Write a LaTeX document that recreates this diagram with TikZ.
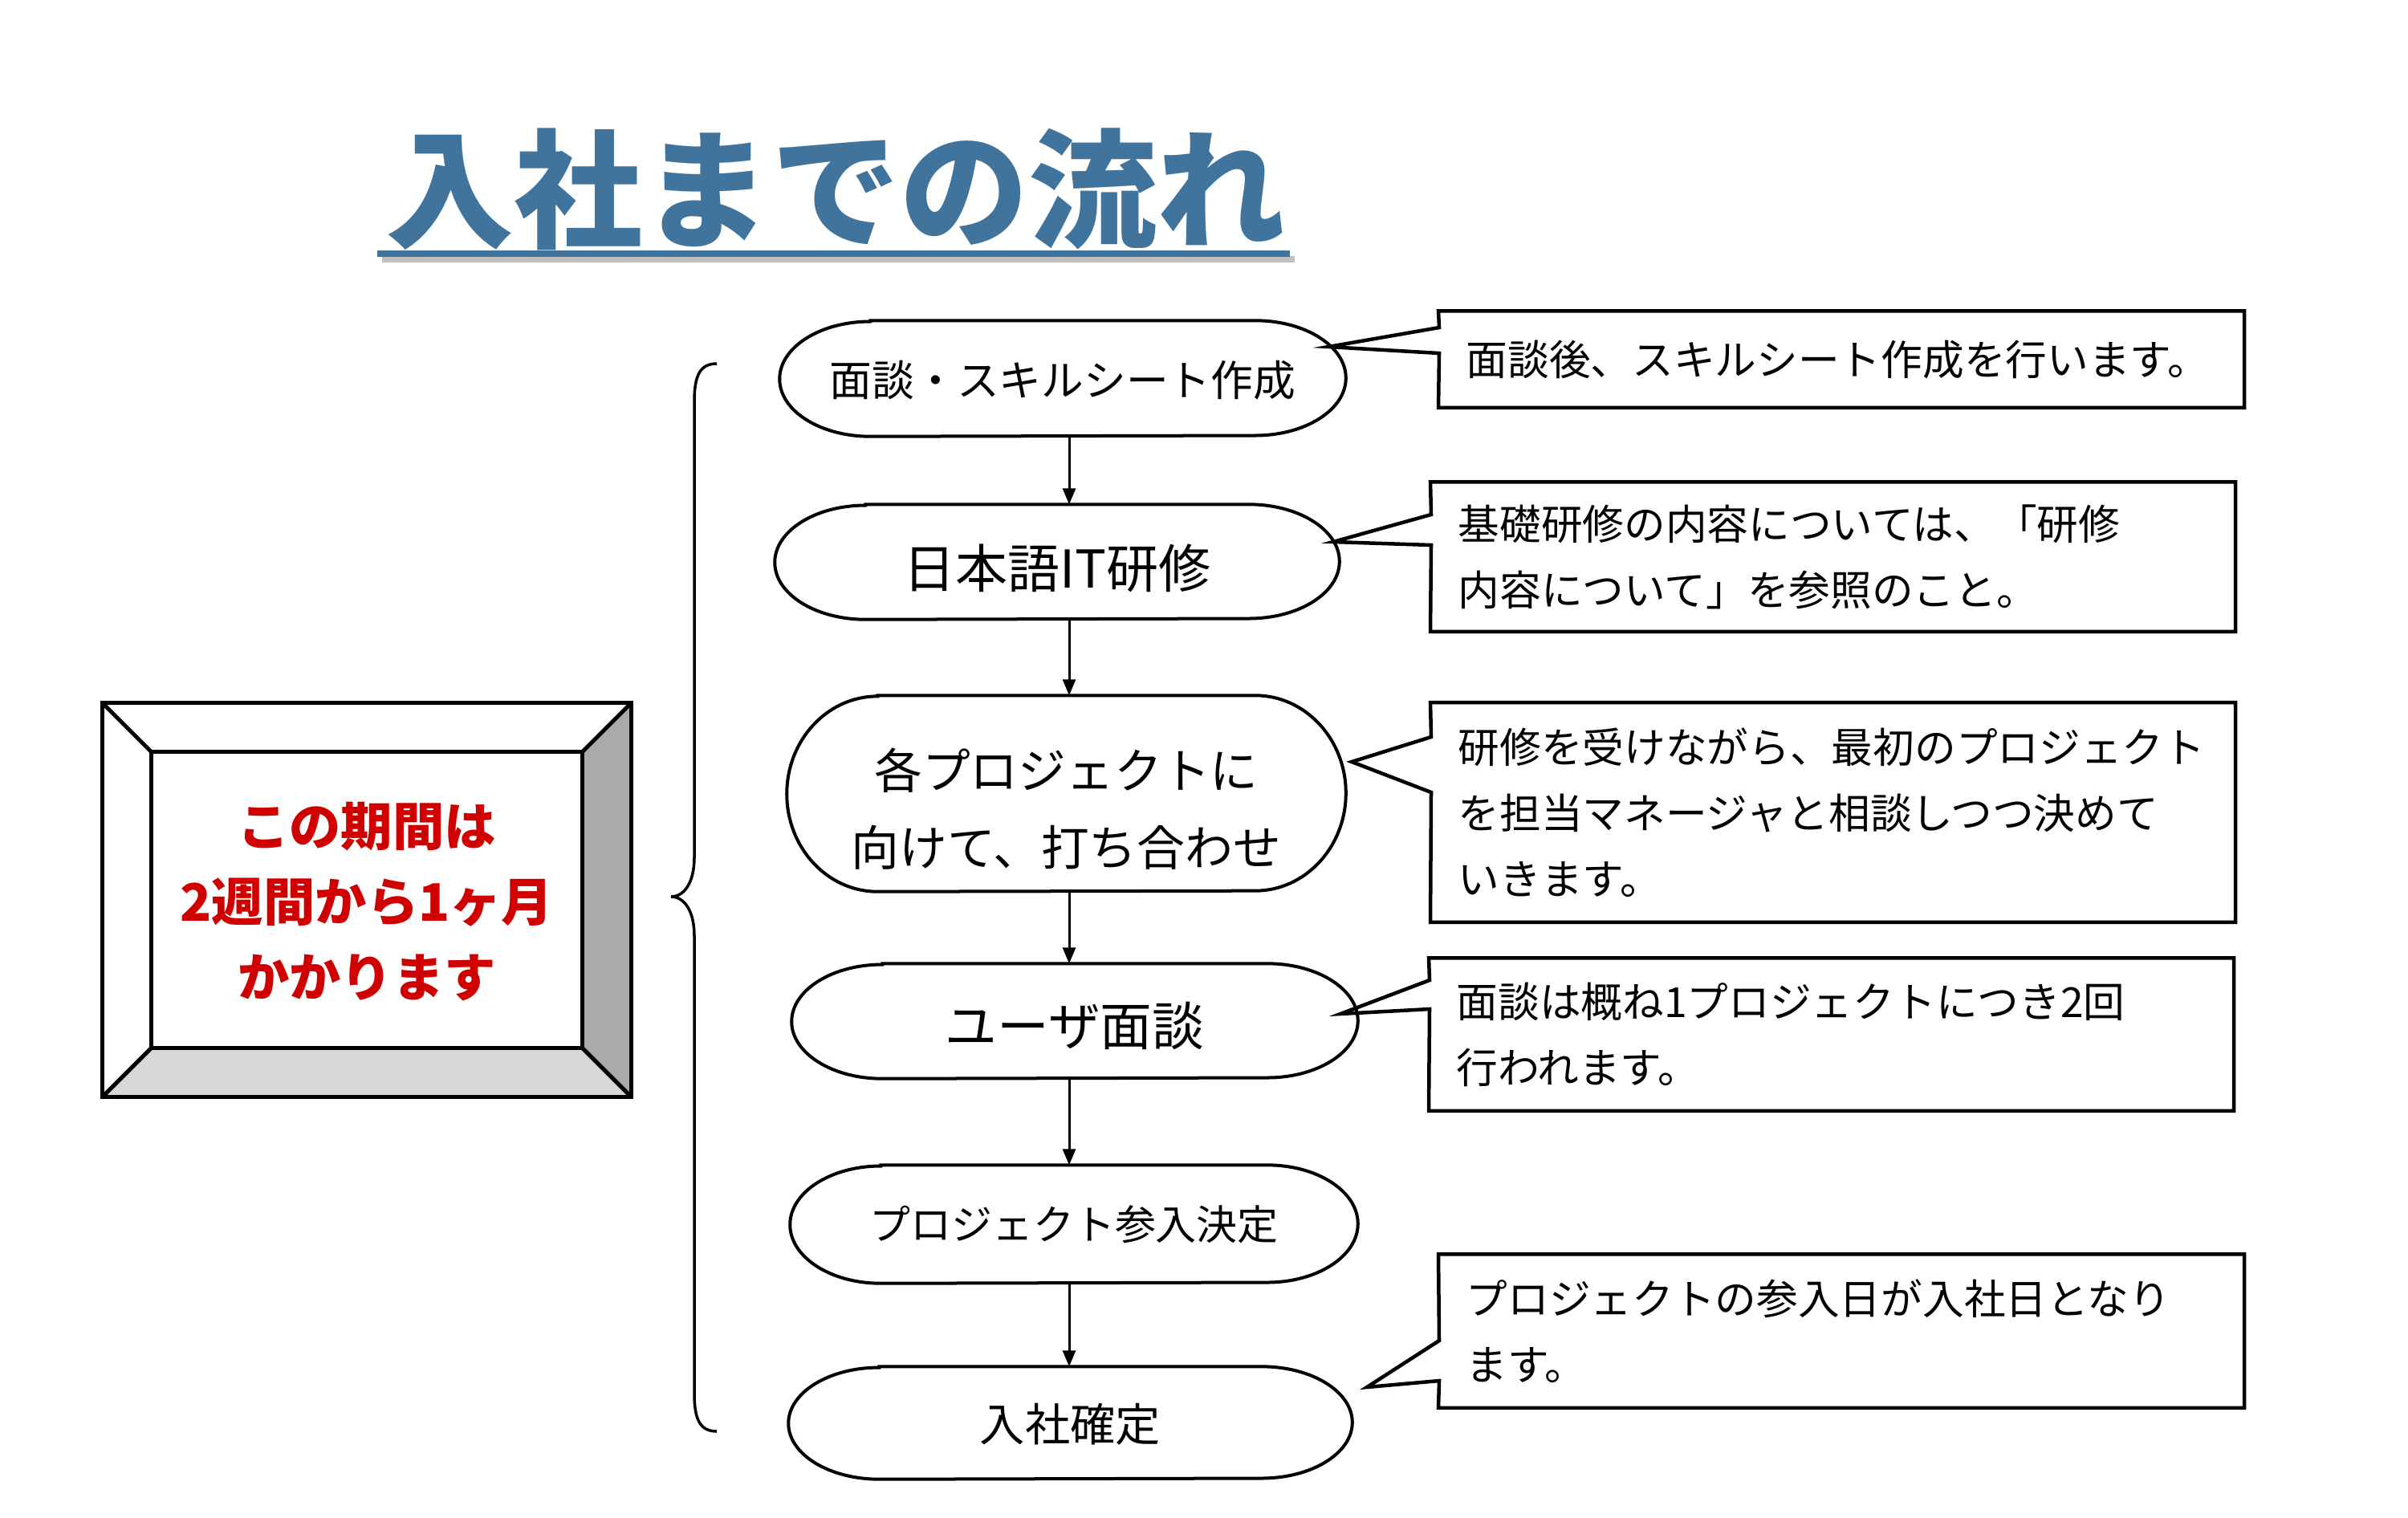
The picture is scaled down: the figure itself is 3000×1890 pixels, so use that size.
\documentclass[tikz,border=0pt]{standalone}
\usepackage{fontspec}
\setmainfont{Noto Sans CJK JP}
\usetikzlibrary{arrows.meta,calc}
\definecolor{titleblue}{RGB}{65,116,157}
\definecolor{alertred}{RGB}{208,0,0}
\definecolor{bevelright}{RGB}{170,170,170}
\definecolor{bevelbottom}{RGB}{215,215,215}
\newcommand\flowstep[8]{% name, cx, cy, w, h, fontsize, text y offset, content
  \node[flowbox, minimum width={0.01cm*#4}, minimum height={0.01cm*#5}] (#1) at (#2,#3) {};
  \draw[flowline] ($(#1.north west)+(113,0)$) -- ($(#1.north east)+(-113,0)$)
     arc[start angle=90, end angle=-90, x radius=1.13cm, y radius={0.005cm*#5}]
     -- ($(#1.south west)+(113,0)$)
     arc[start angle=270, end angle=90, x radius=1.13cm, y radius={0.005cm*#5}] -- cycle;
  \node[flowtext, font=\fontsize{#6}{27.3}\selectfont] (#1t) at ($(#1.center)+(0,#7)$) {#8};
}
\begin{document}
\begin{tikzpicture}[x=0.01cm,y=-0.01cm,
  titletext/.style={font=\fontsize{45.5}{50}\selectfont\bfseries, inner sep=0, text=titleblue},
  flowbox/.style={inner sep=0},
  flowtext/.style={inner sep=0, align=center},
  flowline/.style={draw=black, line width=0.04cm},
  flowarrow/.style={line width=0.03cm, -{Triangle[length=0.2cm,width=0.16cm]}},
  calloutbox/.style={inner sep=0},
  calloutline/.style={draw=black, line width=0.045cm, line join=miter},
  callouttext/.style={inner sep=0, align=left, font=\fontsize{14.7}{23.3}\selectfont},
  bevelline/.style={draw=black, line width=0.05cm},
  alerttext/.style={inner sep=0, align=center, text=alertred, font=\fontsize{18.3}{26.7}\selectfont\bfseries},
  bracestroke/.style={line width=0.035cm}]
\useasboundingbox (0,0) rectangle (3000,1890);

% ---- title
\draw[black!25, line width=0.08cm] (476,323) -- (1613,323);
\node[titletext] (title) at (1041,236) {入社までの流れ};
\draw[titleblue, line width=0.08cm] (470,316) -- (1607,316);

% ---- flow steps
\flowstep{n1}{1324}{471.5}{704}{143}{15}{2}{面談・スキルシート作成}
\flowstep{n2}{1317}{700}{702}{142}{18.5}{8}{日本語IT研修}
\flowstep{n3}{1328.5}{988.5}{695}{243}{17}{19}{各プロジェクトに\\向けて、打ち合わせ}
\flowstep{n4}{1339}{1272}{704}{142}{18.4}{6}{ユーザ面談}
\flowstep{n5}{1338}{1525}{706}{146}{14.5}{0}{プロジェクト参入決定}
\flowstep{n6}{1333.5}{1772.5}{701}{139}{16}{2}{入社確定}

\coordinate (ax) at (1332,0);
\draw[flowarrow] (n1.south -| ax) -- (n2.north -| ax);
\draw[flowarrow] (n2.south -| ax) -- (n3.north -| ax);
\draw[flowarrow] (n3.south -| ax) -- (n4.north -| ax);
\draw[flowarrow] (n4.south -| ax) -- (n5.north -| ax);
\draw[flowarrow] (n5.south -| ax) -- (n6.north -| ax);

% ---- callouts
\node[calloutbox, minimum width=10.02cm, minimum height=1.19cm] (c1) at (2294,447.5) {};
\node[callouttext, anchor=west] (c1t) at ($(c1.west)+(34,0)$) {面談後、スキルシート作成を行います。};
\coordinate (c1tip) at (1655,432);
\coordinate (c1a) at (1793,408);
\coordinate (c1b) at (1793,440);
\draw[calloutline] (c1.north west) -- (c1.north east) -- (c1.south east) -- (c1.south west) -- (c1b) -- (c1tip) -- (c1a) -- cycle;

\node[calloutbox, minimum width=10.01cm, minimum height=1.85cm] (c2) at (2283.5,693.5) {};
\node[callouttext, anchor=west] (c2t) at ($(c2.west)+(34,0)$) {基礎研修の内容については、「研修\\内容について」を参照のこと。};
\coordinate (c2tip) at (1661,675);
\coordinate (c2a) at (1783,641);
\coordinate (c2b) at (1783,679);
\draw[calloutline] (c2.north west) -- (c2.north east) -- (c2.south east) -- (c2.south west) -- (c2b) -- (c2tip) -- (c2a) -- cycle;

\node[calloutbox, minimum width=10.01cm, minimum height=2.72cm] (c3) at (2283.5,1012) {};
\node[callouttext, anchor=west] (c3t) at ($(c3.west)+(34,0)$) {研修を受けながら、最初のプロジェクト\\を担当マネージャと相談しつつ決めて\\いきます。};
\coordinate (c3tip) at (1684,949);
\coordinate (c3a) at (1783,918);
\coordinate (c3b) at (1783,987);
\draw[calloutline] (c3.north west) -- (c3.north east) -- (c3.south east) -- (c3.south west) -- (c3b) -- (c3tip) -- (c3a) -- cycle;

\node[calloutbox, minimum width=10.01cm, minimum height=1.89cm] (c4) at (2281.5,1288.5) {};
\node[callouttext, anchor=west] (c4t) at ($(c4.west)+(34,0)$) {面談は概ね1プロジェクトにつき2回\\行われます。};
\coordinate (c4tip) at (1670,1263);
\coordinate (c4a) at (1781,1221);
\coordinate (c4b) at (1781,1257);
\draw[calloutline] (c4.north west) -- (c4.north east) -- (c4.south east) -- (c4.south west) -- (c4b) -- (c4tip) -- (c4a) -- cycle;

\node[calloutbox, minimum width=10.02cm, minimum height=1.90cm] (c5) at (2294,1658) {};
\node[callouttext, anchor=west] (c5t) at ($(c5.west)+(34,0)$) {プロジェクトの参入日が入社日となり\\ます。};
\coordinate (c5tip) at (1703,1728);
\coordinate (c5a) at (1793,1670);
\coordinate (c5b) at (1793,1720);
\draw[calloutline] (c5.north west) -- (c5.north east) -- (c5.south east) -- (c5.south west) -- (c5b) -- (c5tip) -- (c5a) -- cycle;

% ---- brace
\draw[bracestroke] (893,453) .. controls (872,453) and (865,468) .. (865,500) -- (865,1068)
  .. controls (865,1100) and (852,1117) .. (836,1117)
  .. controls (852,1117) and (865,1134) .. (865,1166) -- (865,1736)
  .. controls (865,1768) and (872,1783) .. (893,1783);

% ---- bevel box
\node[minimum width=6.58cm, minimum height=4.90cm, inner sep=0] (period) at (457,1121) {};
\coordinate (pin1) at ($(period.north west)+(61,61)$);
\coordinate (pin2) at ($(period.south east)+(-61,-61)$);
\coordinate (pin3) at ($(period.north east)+(-61,61)$);
\coordinate (pin4) at ($(period.south west)+(61,-61)$);
\fill[bevelright] (period.north east) -- (period.south east) -- (pin2) -- (pin3) -- cycle;
\fill[bevelbottom] (period.south west) -- (period.south east) -- (pin2) -- (pin4) -- cycle;
\draw[bevelline] (period.north west) rectangle (period.south east);
\draw[bevelline] (pin1) rectangle (pin2);
\draw[bevelline] (period.north west) -- (pin1);
\draw[bevelline] (period.north east) -- (pin3);
\draw[bevelline] (period.south east) -- (pin2);
\draw[bevelline] (period.south west) -- (pin4);
\node[alerttext] (periodtext) at (457,1123) {この期間は\\2週間から1ヶ月\\かかります};
\end{tikzpicture}
\end{document}
